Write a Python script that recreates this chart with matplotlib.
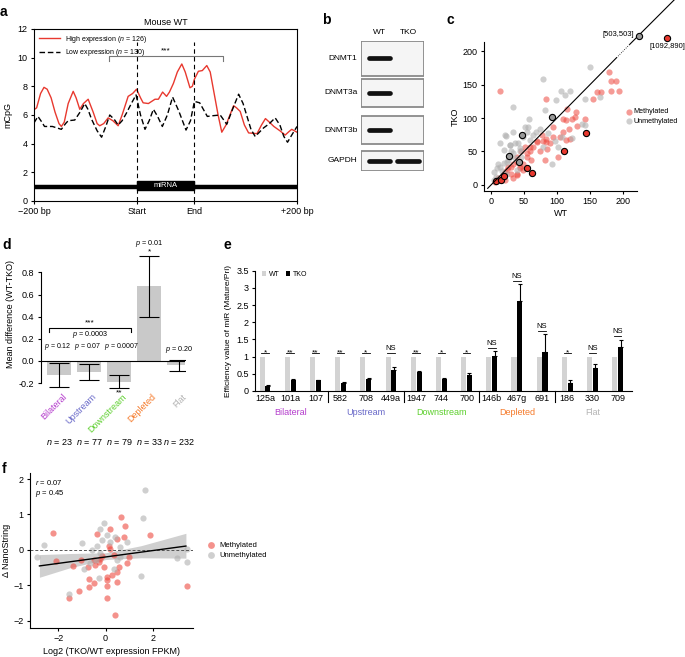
import numpy as np
import matplotlib.pyplot as plt
from matplotlib.patches import Rectangle

plt.rcParams['font.family'] = ['Liberation Sans', 'DejaVu Sans']
plt.rcParams['font.size'] = 6.5
plt.rcParams['mathtext.fontset'] = 'custom'
plt.rcParams['mathtext.it'] = 'Liberation Sans:italic'
plt.rcParams['mathtext.rm'] = 'Liberation Sans'
plt.rcParams['axes.linewidth'] = 0.8
plt.rcParams['xtick.major.width'] = 0.8
plt.rcParams['ytick.major.width'] = 0.8
plt.rcParams['xtick.major.size'] = 2.5
plt.rcParams['ytick.major.size'] = 2.5
plt.rcParams['xtick.major.pad'] = 2
plt.rcParams['ytick.major.pad'] = 2

# ---- data ----
# a: mCpG profile around miRNA (x in % of the -200bp..+200bp window)
hi_x = [0, 1, 2.5, 3.8, 5, 6.5, 8, 9.5, 10.4, 11.5, 13, 14.9, 16, 17.4, 18.8, 20.6, 22.5, 24, 25, 26.5,
        28.2, 30, 32, 33.5, 35.8, 37.5, 39, 40.5, 41.5, 43.5, 46, 47.3, 48.9, 50.4, 51.5, 53, 54.5, 56.2, 57.5,
        59.3, 60.2, 61, 62.5, 64, 65.7, 67, 68.2, 70, 71.4, 73, 75.9, 77, 78.4, 80, 81.6, 84.8, 86.5, 88,
        89.5, 91.2, 93.5, 95.5, 97, 98, 100]
hi_y = [6.37, 6.5, 7.5, 7.93, 7.8, 7.2, 6.2, 5.4, 5.2, 5.5, 6.8, 7.65, 7.2, 6.4, 6.8, 7.1, 6.2, 5.4, 5.25,
        5.4, 5.8, 5.6, 5.25, 6.0, 7.3, 7.5, 7.8, 7.2, 6.85, 6.8, 7.1, 7.1, 7.6, 7.3, 7.6, 8.2, 9.0, 9.56, 9.0,
        7.9, 8.0, 8.5, 9.05, 9.1, 9.45, 9.0, 7.8, 6.0, 4.8, 5.3, 6.65, 6.5, 6.25, 5.3, 4.75, 4.7, 5.3, 5.75,
        5.5, 5.2, 4.9, 4.6, 4.85, 5.0, 4.8]
lo_x = [0, 1.5, 3, 4, 7, 10.4, 12, 13, 15.5, 17.5, 19.3, 20.5, 21.9, 24, 25.7, 27.3, 28.8, 30.5, 32, 33.5,
        35.2, 37, 38.8, 40.5, 42.2, 43.8, 45.4, 47, 48.8, 50.7, 52.7, 55, 57.8, 59.5, 61, 63, 65.9, 68, 70.8,
        73.3, 75.5, 77.8, 79.5, 81, 82.5, 84.1, 87.3, 89.5, 91.7, 93.5, 95, 96.4, 98, 100]
lo_y = [5.45, 5.9, 5.5, 5.2, 5.2, 5.0, 5.4, 5.6, 5.65, 6.2, 6.8, 6.4, 5.7, 4.9, 4.45, 5.2, 6.0, 5.7, 5.3,
        5.6, 6.15, 6.8, 7.4, 6.0, 5.0, 5.6, 6.4, 5.9, 5.2, 6.0, 7.25, 6.3, 4.95, 5.6, 6.95, 6.85, 5.9, 5.95,
        6.0, 5.35, 6.4, 7.45, 6.8, 5.9, 5.0, 4.5, 5.1, 5.4, 5.8, 5.3, 4.5, 4.1, 4.6, 5.2]
a_ticks = [0, 39, 61, 100]
a_ticklabels = ['\u2212200 bp', 'Start', 'End', '+200 bp']

# b: western blot band presence (WT, TKO)
genes = ['DNMT1', 'DNMT3a', 'DNMT3b', 'GAPDH']
lanes = ['WT', 'TKO']
band = [[1, 0], [1, 0], [1, 0], [1, 1]]

# c: WT vs TKO scatter
meth_wt = [13, 179, 181, 189, 194, 182, 167, 160, 155, 83, 115, 127, 129, 122, 142, 114, 109, 130, 118, 109,
           104, 114, 94, 84, 79, 69, 64, 74, 59, 54, 49, 61, 44, 39, 31, 24, 18, 11, 6, 21, 34, 46, 51, 39,
           34, 26, 94, 89, 102, 82, 119, 85, 21, 31, 39, 44, 54, 59, 69, 77, 84, 39, 14, 49]
meth_tko = [141, 169, 156, 156, 141, 140, 139, 139, 129, 128, 114, 102, 109, 99, 99, 97, 99, 88, 84, 79,
            72, 67, 72, 69, 65, 65, 57, 50, 50, 42, 32, 37, 25, 17, 17, 22, 15, 10, 5, 7, 10, 50, 57, 42,
            32, 27, 87, 62, 42, 37, 69, 53, 20, 27, 35, 27, 47, 57, 64, 75, 64, 15, 7, 22]
unmeth_wt = [150, 79, 119, 106, 112, 34, 98, 143, 165, 58, 51, 81, 22, 36, 41, 29, 31, 44, 59, 68, 87, 107,
             123, 142, 137, 102, 92, 29, 14, 9, 19, 26, 36, 46, 16, 22, 4, 8, 40, 34, 74, 54, 64, 21, 34,
             56, 14, 19, 29, 11, 24, 4, 44, 49, 79, 97]
unmeth_tko = [176, 158, 140, 140, 134, 116, 127, 128, 131, 99, 86, 112, 73, 62, 63, 60, 51, 55, 67, 79, 77,
              72, 70, 89, 91, 57, 32, 42, 27, 25, 33, 37, 40, 42, 21, 17, 7, 12, 23, 47, 84, 79, 74, 74, 79,
              86, 62, 52, 60, 32, 35, 20, 50, 72, 57, 65]
hl_meth_wt = [7.5, 14.6, 19.6, 55, 62, 111, 144]
hl_meth_tko = [6, 7, 13, 26, 18, 50, 78]
hl_unmeth_wt = [27, 47, 92, 43]
hl_unmeth_tko = [43, 75, 102, 35]
outlier_labels = ['[503,503]', '[1092,890]']

# d: mean difference by group
d_cats = ['Bilateral', 'Upstream', 'Downstream', 'Depleted', 'Flat']
d_mean = [-0.125, -0.10, -0.19, 0.68, -0.04]
d_lo = [-0.235, -0.17, -0.245, 0.40, -0.09]
d_hi = [-0.02, -0.03, -0.13, 0.95, 0.01]
d_p = ['0.12', '0.07', '0.0007', '0.01', '0.20']
d_n = [23, 77, 79, 33, 232]
group_colors = ['#b43ccc', '#6868c8', '#5ccf2c', '#f57a2a', '#b4b4b4']

# e: processing efficiency
mirs = ['125a', '101a', '107', '582', '708', '449a', '1947', '744', '700', '146b', '467g', '691', '186', '330', '709']
wt_eff = [1] * 15
tko_eff = [0.16, 0.31, 0.31, 0.23, 0.34, 0.60, 0.55, 0.34, 0.48, 1.02, 2.62, 1.14, 0.23, 0.66, 1.28]
tko_err = [0.02, 0.03, 0.02, 0.03, 0.04, 0.10, 0.03, 0.05, 0.04, 0.14, 0.49, 0.51, 0.08, 0.12, 0.21]
e_sig = ['*', '**', '**', '**', '*', 'NS', '**', '*', '*', 'NS', 'NS', 'NS', '*', 'NS', 'NS']

# f: expression vs NanoString change
f_meth_x = [-2.23, -2.1, -1.36, -1.05, -0.76, -0.37, 0.2, 0.65, 0.83, 0.79, 1.89, 0.48, 0.16, 0.2, 0.34,
            -0.16, -0.27, -0.44, -0.08, -0.72, -0.51, -0.72, 0.08, 0.27, 0.48, 0.48, 0.58, 0.9, 0.08, 0.08,
            -1.14, -1.57, 0.38, 3.45, 0.97, 0.06, -0.51, -0.23]
f_meth_y = [0.49, -0.3, -0.45, -0.28, -0.47, 0.45, 0.59, 0.92, 0.68, 0.36, 0.42, 0.31, 0.11, 0.02, -0.14,
            -0.17, -0.33, -0.42, -0.47, -0.82, -0.94, -1.03, -0.75, -0.7, -0.61, -0.89, -0.47, -0.37, -1.01,
            -1.36, -1.17, -1.36, -1.83, -1.01, -0.19, -0.84, -0.28, -0.26]
f_unmeth_x = [1.65, 1.58, -0.06, -0.25, 0.41, 0.9, -1.0, -2.6, -2.9, -0.58, -0.16, 0.06, 0.2, 0.62, -0.4,
              -0.93, -0.68, -0.3, 0.34, 3.02, 3.45, 3.45, 1.5, -1.57, 0.59, -0.37, -0.23, 0.48]
f_unmeth_y = [1.69, 0.91, 0.75, 0.59, 0.36, 0.23, 0.21, 0.14, -0.19, 0.0, 0.28, 0.42, 0.23, 0.07, -0.28,
              -0.53, -0.37, -0.8, -0.53, -0.22, -0.33, 0.02, -0.73, -1.25, -0.19, 0.11, -0.09, -0.28]
fit_x = [-2.8, 3.4]
fit_y = [-0.45, 0.11]
band_x = [-2.8, -1.5, 0, 1.5, 3.4]
band_lo = [-0.77, -0.5, -0.27, -0.22, -0.23]
band_hi = [-0.13, -0.1, -0.08, 0.12, 0.47]

RED = '#e8392f'
PT_RED = '#ee4a40'
PT_GRAY = '#b0b0b0'

W, H = 685, 657
fig = plt.figure(figsize=(W / 100, H / 100), dpi=100)


def px_axes(l, t, r, b):
    return fig.add_axes([l / W, 1 - b / H, (r - l) / W, (b - t) / H])


def panel_label(s, x, y):
    fig.text(x / W, 1 - y / H, s, fontsize=10, fontweight='bold', va='center', ha='left')


# ---- a ----
ax = px_axes(34, 29, 297, 201)
ax.plot(hi_x, hi_y, color=RED, lw=1.0, label='High expression ($n$ = 126)')
ax.plot(lo_x, lo_y, color='black', lw=1.0, ls=(0, (4, 2)), label='Low expression ($n$ = 130)')
for xv in a_ticks[1:3]:
    ax.plot([xv, xv], [0, 11.1], color='black', lw=0.8, ls=(0, (4, 3)))
ax.plot([0, 100], [1, 1], color='black', lw=3.2, solid_capstyle='butt')
ax.add_patch(Rectangle((a_ticks[1], 0.74), a_ticks[2] - a_ticks[1], 0.63, color='black'))
ax.text((a_ticks[1] + a_ticks[2]) / 2, 1.05, 'miRNA', color='white', ha='center', va='center', fontsize=5.5)
ax.plot([28.5, 28.5, 71.8, 71.8], [9.75, 10.1, 10.1, 9.75], color='#777777', lw=0.8)
ax.text(50, 10.2, '***', ha='center', va='bottom', fontsize=6)
ax.set_xlim(0, 100)
ax.set_ylim(0, 12)
ax.set_yticks(range(0, 13, 2))
ax.set_xticks(a_ticks)
ax.set_xticklabels(a_ticklabels)
ax.set_ylabel('mCpG')
ax.set_title('Mouse WT', fontsize=6.5, pad=3)
ax.legend(loc='upper left', frameon=False, fontsize=5, handlelength=3, borderaxespad=0.3, labelspacing=0.3)
panel_label('a', 0, 12)

# ---- b ----
axb = px_axes(361, 41, 424, 171)
row_top = [0, 38, 75, 110]
row_h = [35, 28, 28, 20]
for i, g in enumerate(genes):
    axb.add_patch(Rectangle((-0.65, row_top[i]), 2.21, row_h[i], facecolor='#f5f5f5',
                            edgecolor='#8a8a8a', lw=1.3))
    yc = row_top[i] + row_h[i] / 2
    for j, v in enumerate(band[i]):
        if v > 0:
            axb.plot([j - 0.38, j + 0.38], [yc, yc], color='#111111', lw=3.4, alpha=v,
                     solid_capstyle='round')
    axb.text(-0.78, yc, g, ha='right', va='center', fontsize=6)
for j, ln in enumerate(lanes):
    axb.text(j, -8, ln, ha='center', va='center', fontsize=6)
axb.set_xlim(-0.65, 1.56)
axb.set_ylim(130, 0)
axb.axis('off')
panel_label('b', 322, 20)

# ---- c ----
axc = px_axes(484, 42, 637, 191)
axc.scatter(meth_wt, meth_tko, s=20, color=PT_RED, alpha=0.55, lw=0, label='Methylated')
axc.scatter(unmeth_wt, unmeth_tko, s=20, color=PT_GRAY, alpha=0.6, lw=0, label='Unmethylated')
axc.scatter(hl_unmeth_wt, hl_unmeth_tko, s=20, color='#999999', edgecolor='black', lw=0.8)
axc.scatter(hl_meth_wt, hl_meth_tko, s=20, color=RED, edgecolor='black', lw=0.8)
axc.plot([-5, 190], [-5, 190], color='black', lw=0.8)
axc.plot([190, 210], [190, 210], color='black', lw=0.6, ls=':', clip_on=False)
axc.plot([210, 280], [210, 279], color='black', lw=0.8, clip_on=False)
axc.scatter([224], [223], s=20, color='#999999', edgecolor='black', lw=0.8, clip_on=False, zorder=5)
axc.scatter([266.5], [219], s=20, color=RED, edgecolor='black', lw=0.8, clip_on=False, zorder=5)
axc.text(217, 224, outlier_labels[0], ha='right', va='center', fontsize=5.5)
axc.text(267, 207, outlier_labels[1], ha='center', va='center', fontsize=5.5)
axc.set_xlim(-10.6, 221)
axc.set_ylim(-9, 213.5)
axc.set_xticks([0, 50, 100, 150, 200])
axc.set_yticks([0, 50, 100, 150, 200])
axc.spines['top'].set_visible(False)
axc.spines['right'].set_visible(False)
axc.set_xlabel('WT', labelpad=2)
axc.set_ylabel('TKO', labelpad=2)
axc.legend(loc='center left', bbox_to_anchor=(0.92, 0.5), frameon=False, fontsize=5.2, borderpad=0,
           borderaxespad=0, handletextpad=0.05, labelspacing=0.3, handlelength=1.2)
panel_label('c', 447, 20)

# ---- d ----
axd = px_axes(40.7, 239.3, 185, 388.65)
xd = np.arange(len(d_cats))
axd.bar(xd, d_mean, width=0.8, color='#c9c9c9')
axd.errorbar(xd, d_mean, yerr=[np.array(d_mean) - np.array(d_lo), np.array(d_hi) - np.array(d_mean)],
             fmt='none', ecolor='black', elinewidth=0.8, capsize=7, capthick=0.8)
axd.axhline(0, color='black', lw=0.8)
p_shift = [-0.05, -0.04, 0.08, 0, 0]
for i in range(len(d_cats)):
    ptxt = '$p$ = ' + d_p[i]
    if i == 3:
        axd.text(i, 1.01, ptxt, ha='center', va='bottom', fontsize=5.2)
        axd.text(i, 1.02, '*', ha='center', va='top', fontsize=6)
    elif i == 4:
        axd.text(i, 0.05, ptxt, ha='center', va='bottom', fontsize=5.2)
    else:
        axd.text(i + p_shift[i], 0.085, ptxt, ha='center', va='bottom', fontsize=5.0)
    axd.text(i + 0.2, -0.31, d_cats[i], rotation=45, rotation_mode='anchor', ha='right', va='center',
             color=group_colors[i], fontsize=6.5)
    axd.text(i, -0.73, '$n$ = %d' % d_n[i], ha='center', va='center', fontsize=6.5)
axd.text(2, -0.26, '**', ha='center', va='top', fontsize=6)
axd.plot([-0.35, -0.35, 2.4, 2.4], [0.26, 0.30, 0.30, 0.26], color='black', lw=0.8)
axd.text(1.02, 0.31, '***', ha='center', va='bottom', fontsize=6)
axd.text(1.02, 0.235, '$p$ = 0.0003', ha='center', va='center', fontsize=5.2)
axd.set_xlim(-0.62, 4.2)
axd.set_ylim(-0.25, 1.1)
axd.set_yticks([-0.2, 0.0, 0.2, 0.4, 0.6, 0.8])
axd.set_yticklabels(['-0.2', '0.0', '0.2', '0.4', '0.6', '0.8'])
axd.set_xticks([])
for sp in ['top', 'right', 'bottom']:
    axd.spines[sp].set_visible(False)
axd.spines['left'].set_bounds(-0.2, 0.8)
axd.set_ylabel('Mean difference (WT-TKO)', labelpad=3)
panel_label('d', 2, 245)

# ---- e ----
axe = px_axes(255, 270.7, 632, 391)
xe = np.arange(len(mirs))
axe.bar(xe - 0.115, wt_eff, width=0.2, color='#d3d3d3', label='WT')
axe.bar(xe + 0.115, tko_eff, width=0.2, color='black', label='TKO')
axe.errorbar(xe + 0.115, tko_eff, yerr=[np.zeros(len(mirs)), tko_err], fmt='none', ecolor='black',
             elinewidth=0.8, capsize=1.5, capthick=0.8)
for i in range(len(mirs)):
    top = max(wt_eff[i], tko_eff[i] + tko_err[i]) + 0.1
    axe.plot([i - 0.15, i + 0.15], [top, top], color='black', lw=0.6)
    if e_sig[i] == 'NS':
        axe.text(i, top + 0.03, 'NS', ha='center', va='bottom', fontsize=5.5)
    else:
        axe.text(i, top - 0.1, e_sig[i], ha='center', va='bottom', fontsize=6)
for xv in [2.5, 5.5, 8.5, 11.5]:
    axe.plot([xv, xv], [0, -0.32], color='black', lw=0.8, clip_on=False)
for k in range(5):
    axe.text(3 * k + 1, -0.63, d_cats[k], color=group_colors[k], ha='center', va='center', fontsize=6.5)
axe.set_xlim(-0.4, 14.57)
axe.set_ylim(0, 3.5)
axe.set_xticks(xe)
axe.set_xticklabels(mirs)
axe.tick_params(axis='x', length=0)
axe.set_yticks([0, 0.5, 1, 1.5, 2, 2.5, 3, 3.5])
axe.set_yticklabels(['0', '0.5', '1', '1.5', '2', '2.5', '3', '3.5'])
axe.spines['top'].set_visible(False)
axe.spines['right'].set_visible(False)
axe.set_ylabel('Efficiency value of miR (Mature/Pri)', fontsize=6, labelpad=3)
axe.legend(loc='upper left', ncol=2, frameon=False, fontsize=5, handlelength=0.7, handleheight=0.7,
           handletextpad=0.4, columnspacing=0.8, borderaxespad=0, bbox_to_anchor=(0.01, 1.02))
panel_label('e', 223, 245)

# ---- f ----
axf = px_axes(30, 473, 193, 628)
axf.fill_between(band_x, band_lo, band_hi, color='#d0d0d0', lw=0)
axf.axhline(0, color='#555555', lw=0.7, ls=(0, (3, 2)))
axf.scatter(f_meth_x, f_meth_y, s=20, color=PT_RED, alpha=0.6, lw=0, label='Methylated')
axf.scatter(f_unmeth_x, f_unmeth_y, s=20, color=PT_GRAY, alpha=0.6, lw=0, label='Unmethylated')
axf.plot(fit_x, fit_y, color='black', lw=1.0)
axf.text(-3.0, 1.9, '$r$ = 0.07', fontsize=5.5, va='center')
axf.text(-3.0, 1.6, '$p$ = 0.45', fontsize=5.5, va='center')
axf.set_xlim(-3.2, 3.7)
axf.set_ylim(-2.2, 2.17)
axf.set_xticks([-2, 0, 2])
axf.set_yticks([-2, -1, 0, 1, 2])
axf.set_yticklabels(['\u22122', '\u22121', '0', '1', '2'])
axf.set_xticklabels(['\u22122', '0', '2'])
axf.spines['top'].set_visible(False)
axf.spines['right'].set_visible(False)
axf.set_xlabel('Log2 (TKO/WT expression FPKM)', labelpad=3)
axf.set_ylabel('\u0394 NanoString', labelpad=2)
axf.legend(loc='center left', bbox_to_anchor=(1.02, 0.5), frameon=False, fontsize=5.5,
           handletextpad=0.1, labelspacing=0.3, markerscale=1.1)
panel_label('f', 2, 469)

fig.savefig('out.png', dpi=100)
